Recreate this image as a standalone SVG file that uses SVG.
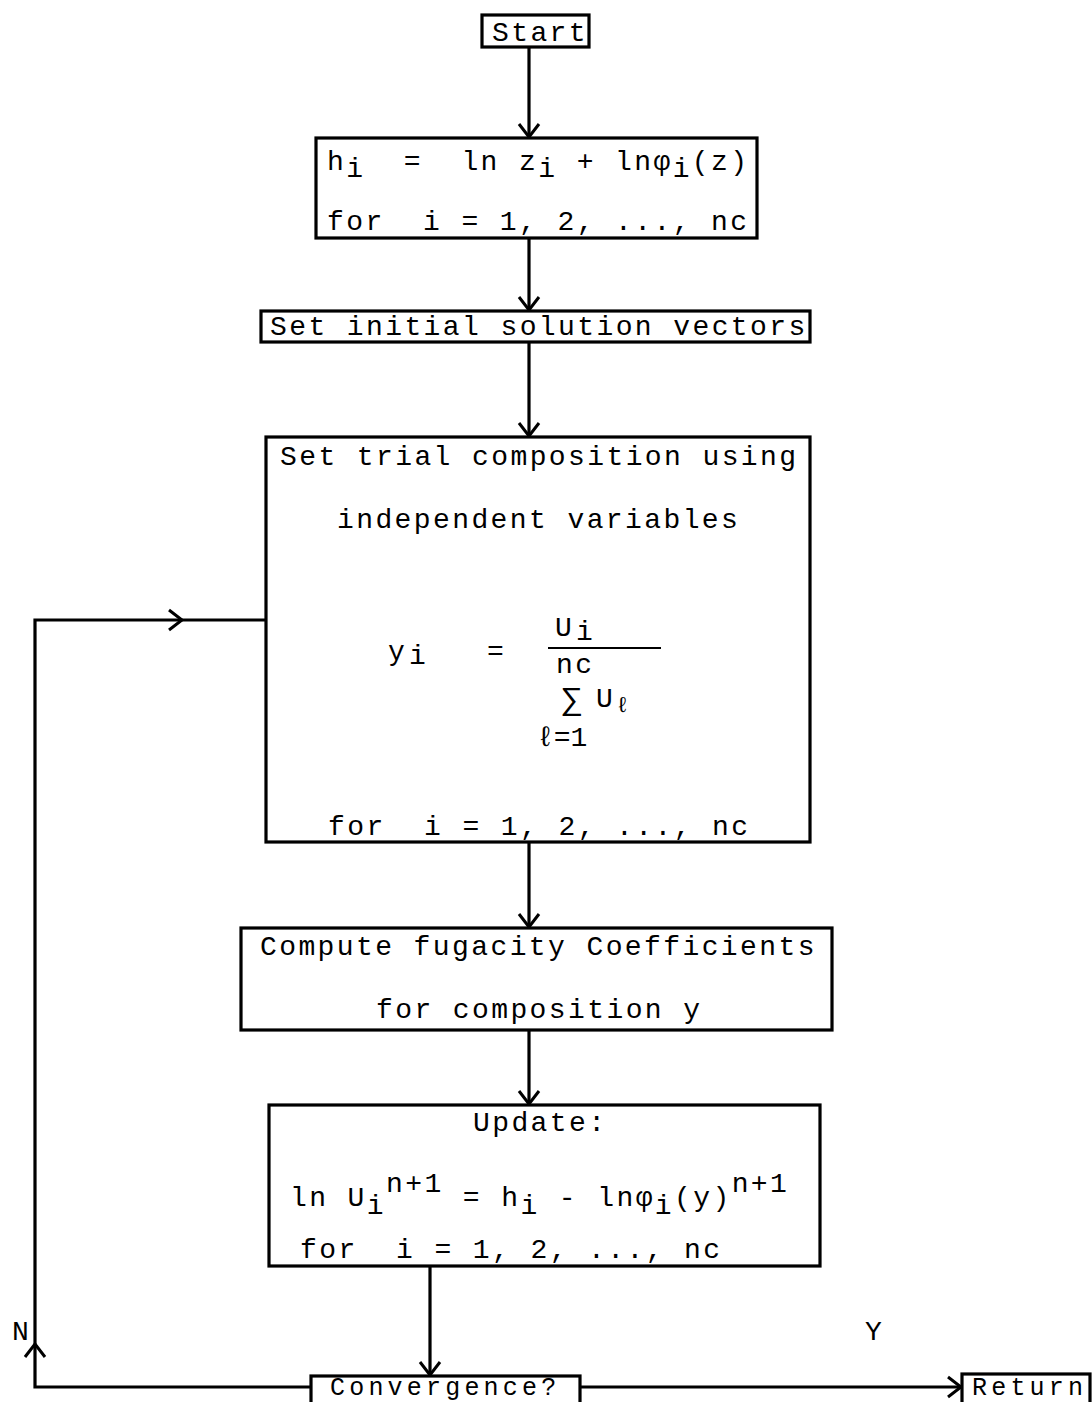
<svg xmlns="http://www.w3.org/2000/svg" width="1092" height="1402" viewBox="0 0 1092 1402">
<style>
.box{fill:#fff;stroke:#000;stroke-width:3.2}
.ln{fill:none;stroke:#000;stroke-width:3.2}
text{font-family:"Liberation Mono","DejaVu Sans Mono",monospace;font-size:28px;letter-spacing:2.4px;fill:#000}
.sm{font-size:25px;letter-spacing:4.2px}
</style>
<defs>
<marker id="ah" markerUnits="userSpaceOnUse" markerWidth="30" markerHeight="30" viewBox="-15 -15 30 30" refX="0" refY="0" orient="auto" overflow="visible">
<path d="M-13,-10 L0,0 L-13,10" fill="none" stroke="#000" stroke-width="3"/>
</marker>
</defs>
<rect width="1092" height="1402" fill="#fff"/>
<g id="connectors">
<path class="ln" d="M529,47 V137" marker-end="url(#ah)"/>
<path class="ln" d="M529,238 V310" marker-end="url(#ah)"/>
<path class="ln" d="M529,342 V436" marker-end="url(#ah)"/>
<path class="ln" d="M529,842 V927" marker-end="url(#ah)"/>
<path class="ln" d="M529,1030 V1104" marker-end="url(#ah)"/>
<path class="ln" d="M430,1266 V1375" marker-end="url(#ah)"/>
<path class="ln" d="M311,1387 H35 V1344" marker-end="url(#ah)"/>
<path class="ln" d="M35,1346 V620 H182" marker-end="url(#ah)"/>
<path class="ln" d="M180,620 H266"/>
<path class="ln" d="M580,1387 H961" marker-end="url(#ah)"/>
<text x="12" y="1340">N</text>
<text x="865" y="1340">Y</text>
</g>
<g id="start">
<rect class="box" x="482" y="15" width="107" height="32"/>
<text x="492" y="41">Start</text>
</g>
<g id="init-h">
<rect class="box" x="316" y="138" width="441" height="100"/>
<text x="327" y="170" xml:space="preserve">h<tspan dy="7">i</tspan><tspan dy="-7">  =  ln z</tspan><tspan dy="7">i</tspan><tspan dy="-7"> + lnφ</tspan><tspan dy="7">i</tspan><tspan dy="-7">(z)</tspan></text>
<text x="327" y="230" xml:space="preserve">for  i = 1, 2, ..., nc</text>
</g>
<g id="set-initial">
<rect class="box" x="261" y="311" width="549" height="31"/>
<text x="270" y="335">Set initial solution vectors</text>
</g>
<g id="trial">
<rect class="box" x="266" y="437" width="544" height="405"/>
<text x="280" y="465">Set trial composition using</text>
<text x="337" y="528">independent variables</text>
<text x="388" y="660">y</text>
<text x="409" y="664">i</text>
<text x="487" y="660">=</text>
<text x="555" y="636">U</text>
<text x="576" y="640">i</text>
<line class="ln" x1="548" y1="648" x2="661" y2="648" style="stroke-width:2"/>
<text x="556" y="673">nc</text>
<text x="562" y="709" style="font-size:32px">∑</text>
<text x="596" y="707">U</text>
<text x="616" y="712" style="font-size:22px">ℓ</text>
<text x="537" y="746" style="letter-spacing:0px">ℓ=1</text>
<text x="328" y="835" xml:space="preserve">for  i = 1, 2, ..., nc</text>
</g>
<g id="fugacity">
<rect class="box" x="241" y="928" width="591" height="102"/>
<text x="260" y="955">Compute fugacity Coefficients</text>
<text x="376" y="1018">for composition y</text>
</g>
<g id="update">
<rect class="box" x="269" y="1105" width="551" height="161"/>
<text x="473" y="1131">Update:</text>
<text x="290" y="1206" xml:space="preserve">ln U<tspan dy="8">i</tspan><tspan dy="-22">n+1</tspan><tspan dy="14"> = h</tspan><tspan dy="8">i</tspan><tspan dy="-8"> - lnφ</tspan><tspan dy="8">i</tspan><tspan dy="-8">(y)</tspan><tspan dy="-14">n+1</tspan></text>
<text x="300" y="1258" xml:space="preserve">for  i = 1, 2, ..., nc</text>
</g>
<g id="convergence">
<rect class="box" x="311" y="1376" width="269" height="40"/>
<text class="sm" x="330" y="1395">Convergence?</text>
</g>
<g id="return">
<rect class="box" x="962" y="1374" width="128" height="40"/>
<text class="sm" x="972" y="1395">Return</text>
</g>
</svg>
